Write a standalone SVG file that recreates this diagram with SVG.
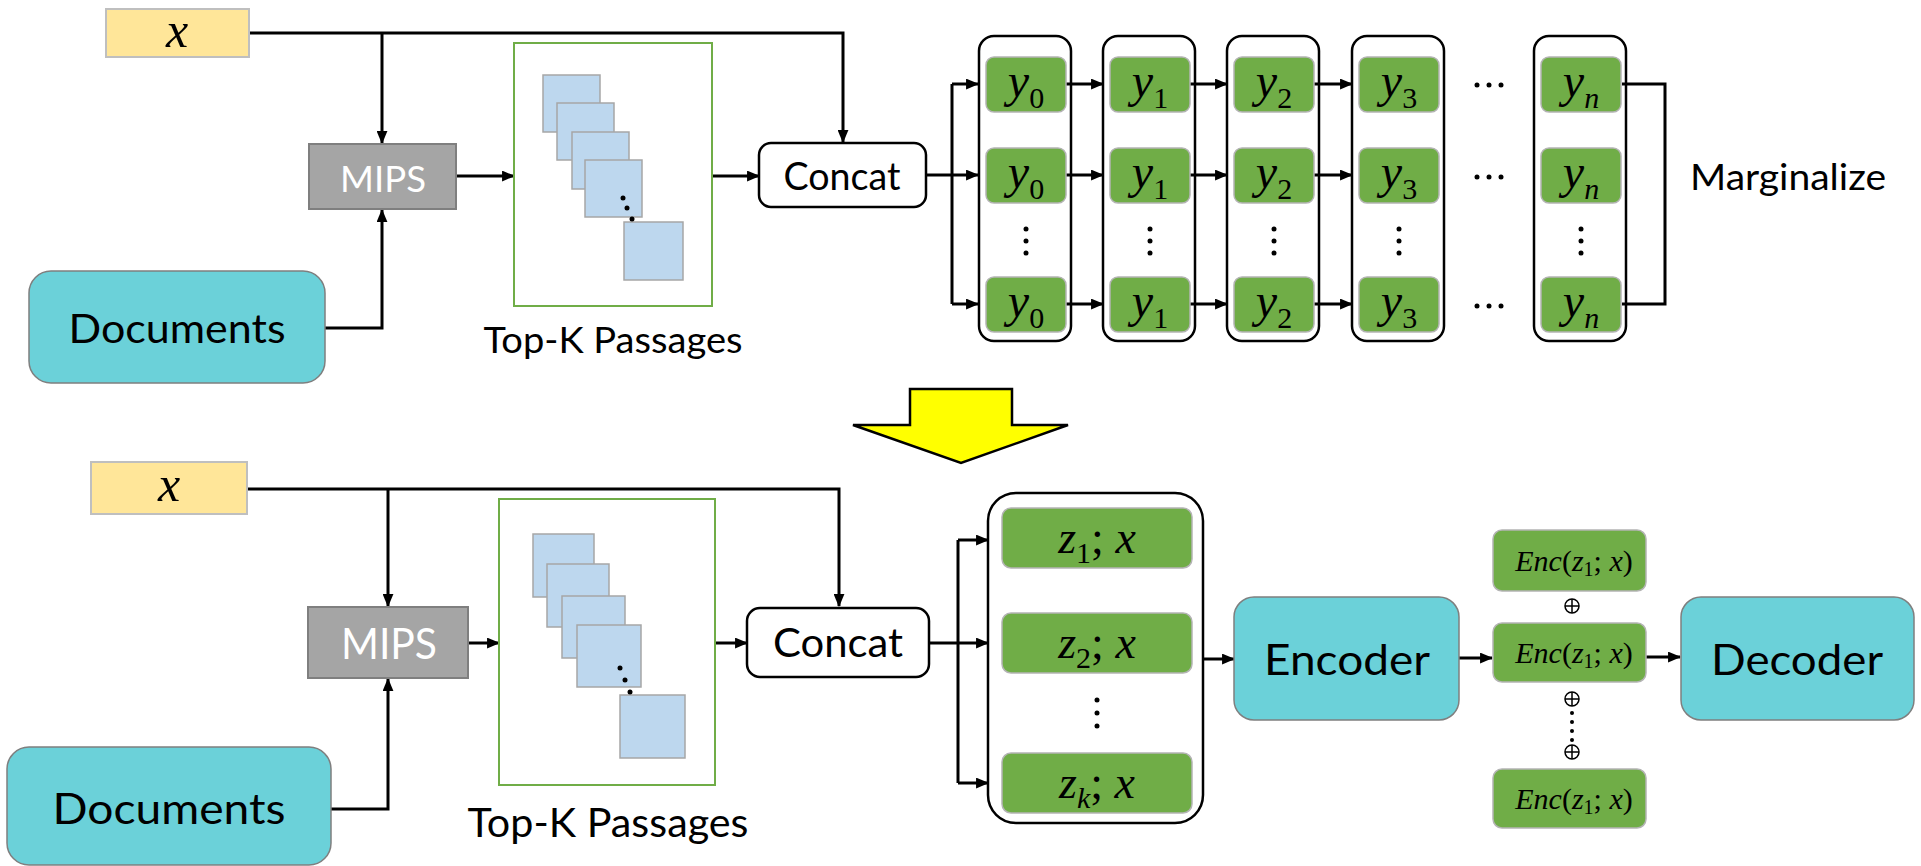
<svg xmlns="http://www.w3.org/2000/svg" width="1921" height="866" viewBox="0 0 1921 866">
<style>
.lbl{font-family:Lato,"Liberation Sans",sans-serif;fill:#000;text-anchor:middle}
.m{font-family:"Liberation Serif","DejaVu Serif",serif;font-style:italic;fill:#000;text-anchor:middle}
.up{font-style:normal}
.xbox{fill:#ffe699;stroke:#bfbfbf;stroke-width:2}
.mips{fill:#a5a5a5;stroke:#7f7f7f;stroke-width:2}
.teal{fill:#6bd1d9;stroke:#7f7f7f;stroke-width:1.5}
.gbox{fill:#70ad47;stroke:#b4b4b4;stroke-width:1.5}
.blue{fill:#bdd7ee;stroke:#a6a6a6;stroke-width:1.5}
.pass{fill:#fff;stroke:#70ad47;stroke-width:2}
.outl{fill:none;stroke:#000;stroke-width:2.5}
.ln{fill:none;stroke:#000;stroke-width:3}
.ar{fill:none;stroke:#000;stroke-width:3;marker-end:url(#arr)}
.dot{fill:#000}
</style>
<defs>
<marker id="arr" viewBox="0 0 12 10" refX="11" refY="5" markerWidth="13" markerHeight="11" markerUnits="userSpaceOnUse" orient="auto">
<path d="M0,0 L12,5 L0,10 z" fill="#000"/>
</marker>
</defs>
<rect width="1921" height="866" fill="#fff"/>

<!-- ===== TOP SECTION ===== -->
<g id="connectors-top">
<path class="ar" d="M249 33 H843 V142"/>
<path class="ar" d="M382 33 V143"/>
<path class="ar" d="M325 328 H382 V210"/>
<path class="ar" d="M456 176 H514"/>
<path class="ar" d="M713 176 H759"/>
<path class="ln" d="M926 175 H952"/>
<path class="ln" d="M952 84 V304"/>
<path class="ar" d="M952 84 H978"/>
<path class="ar" d="M952 175 H978"/>
<path class="ar" d="M952 304 H978"/>
<path class="ar" d="M1066 84 H1103"/><path class="ar" d="M1066 175 H1103"/><path class="ar" d="M1066 304 H1103"/>
<path class="ar" d="M1190 84 H1227"/><path class="ar" d="M1190 175 H1227"/><path class="ar" d="M1190 304 H1227"/>
<path class="ar" d="M1314 84 H1352"/><path class="ar" d="M1314 175 H1352"/><path class="ar" d="M1314 304 H1352"/>
<path class="ln" d="M1622 84 H1665 V304 H1622"/>
</g>

<g id="x-top">
<rect class="xbox" x="106" y="9" width="143" height="48"/>
<text class="m" x="177" y="47" font-size="50">x</text>
</g>
<g id="mips-top">
<rect class="mips" x="309" y="144" width="147" height="65"/>
<text class="lbl" x="383" y="192" font-size="36" style="fill:#fff" textLength="86" lengthAdjust="spacingAndGlyphs">MIPS</text>
</g>
<g id="documents-top">
<rect class="teal" x="29" y="271" width="296" height="112" rx="22"/>
<text class="lbl" x="177" y="343" font-size="40" textLength="217" lengthAdjust="spacingAndGlyphs">Documents</text>
</g>
<g id="passages-top">
<rect class="pass" x="514" y="43" width="198" height="263"/>
<rect class="blue" x="543" y="75" width="57" height="57"/>
<rect class="blue" x="557" y="103" width="57" height="57"/>
<rect class="blue" x="572" y="132" width="57" height="57"/>
<rect class="blue" x="585" y="160" width="57" height="57"/>
<rect class="blue" x="624" y="222" width="59" height="58"/>
<circle class="dot" cx="623" cy="198" r="2.5"/>
<circle class="dot" cx="627" cy="208" r="2.5"/>
<circle class="dot" cx="632" cy="219" r="2.5"/>
<text class="lbl" x="613" y="353" font-size="36" textLength="259" lengthAdjust="spacingAndGlyphs">Top-K Passages</text>
</g>
<g id="concat-top">
<rect x="759" y="143" width="167" height="64" rx="12" fill="#fff" stroke="#000" stroke-width="2.5"/>
<text class="lbl" x="842" y="190" font-size="38" textLength="117" lengthAdjust="spacingAndGlyphs">Concat</text>
</g>

<g id="col0">
<rect class="outl" x="979" y="36" width="92" height="305" rx="15"/>
<rect class="gbox" x="986" y="57" width="80" height="55" rx="8"/>
<rect class="gbox" x="986" y="148" width="80" height="55" rx="8"/>
<rect class="gbox" x="986" y="277" width="80" height="55" rx="8"/>
<text class="m" x="1026" y="97" font-size="48">y<tspan class="up" font-size="30" dy="11">0</tspan></text>
<text class="m" x="1026" y="188" font-size="48">y<tspan class="up" font-size="30" dy="11">0</tspan></text>
<text class="m" x="1026" y="317" font-size="48">y<tspan class="up" font-size="30" dy="11">0</tspan></text>
<circle class="dot" cx="1026" cy="229" r="2.5"/><circle class="dot" cx="1026" cy="241" r="2.5"/><circle class="dot" cx="1026" cy="253" r="2.5"/>
</g>
<g id="col1">
<rect class="outl" x="1103" y="36" width="92" height="305" rx="15"/>
<rect class="gbox" x="1110" y="57" width="80" height="55" rx="8"/>
<rect class="gbox" x="1110" y="148" width="80" height="55" rx="8"/>
<rect class="gbox" x="1110" y="277" width="80" height="55" rx="8"/>
<text class="m" x="1150" y="97" font-size="48">y<tspan class="up" font-size="30" dy="11">1</tspan></text>
<text class="m" x="1150" y="188" font-size="48">y<tspan class="up" font-size="30" dy="11">1</tspan></text>
<text class="m" x="1150" y="317" font-size="48">y<tspan class="up" font-size="30" dy="11">1</tspan></text>
<circle class="dot" cx="1150" cy="229" r="2.5"/><circle class="dot" cx="1150" cy="241" r="2.5"/><circle class="dot" cx="1150" cy="253" r="2.5"/>
</g>
<g id="col2">
<rect class="outl" x="1227" y="36" width="92" height="305" rx="15"/>
<rect class="gbox" x="1234" y="57" width="80" height="55" rx="8"/>
<rect class="gbox" x="1234" y="148" width="80" height="55" rx="8"/>
<rect class="gbox" x="1234" y="277" width="80" height="55" rx="8"/>
<text class="m" x="1274" y="97" font-size="48">y<tspan class="up" font-size="30" dy="11">2</tspan></text>
<text class="m" x="1274" y="188" font-size="48">y<tspan class="up" font-size="30" dy="11">2</tspan></text>
<text class="m" x="1274" y="317" font-size="48">y<tspan class="up" font-size="30" dy="11">2</tspan></text>
<circle class="dot" cx="1274" cy="229" r="2.5"/><circle class="dot" cx="1274" cy="241" r="2.5"/><circle class="dot" cx="1274" cy="253" r="2.5"/>
</g>
<g id="col3">
<rect class="outl" x="1352" y="36" width="92" height="305" rx="15"/>
<rect class="gbox" x="1359" y="57" width="80" height="55" rx="8"/>
<rect class="gbox" x="1359" y="148" width="80" height="55" rx="8"/>
<rect class="gbox" x="1359" y="277" width="80" height="55" rx="8"/>
<text class="m" x="1399" y="97" font-size="48">y<tspan class="up" font-size="30" dy="11">3</tspan></text>
<text class="m" x="1399" y="188" font-size="48">y<tspan class="up" font-size="30" dy="11">3</tspan></text>
<text class="m" x="1399" y="317" font-size="48">y<tspan class="up" font-size="30" dy="11">3</tspan></text>
<circle class="dot" cx="1399" cy="229" r="2.5"/><circle class="dot" cx="1399" cy="241" r="2.5"/><circle class="dot" cx="1399" cy="253" r="2.5"/>
</g>
<g id="ellipses">
<circle class="dot" cx="1477" cy="85" r="2.5"/><circle class="dot" cx="1489" cy="85" r="2.5"/><circle class="dot" cx="1501" cy="85" r="2.5"/>
<circle class="dot" cx="1477" cy="177" r="2.5"/><circle class="dot" cx="1489" cy="177" r="2.5"/><circle class="dot" cx="1501" cy="177" r="2.5"/>
<circle class="dot" cx="1477" cy="306" r="2.5"/><circle class="dot" cx="1489" cy="306" r="2.5"/><circle class="dot" cx="1501" cy="306" r="2.5"/>
</g>
<g id="coln">
<rect class="outl" x="1534" y="36" width="92" height="305" rx="15"/>
<rect class="gbox" x="1541" y="57" width="80" height="55" rx="8"/>
<rect class="gbox" x="1541" y="148" width="80" height="55" rx="8"/>
<rect class="gbox" x="1541" y="277" width="80" height="55" rx="8"/>
<text class="m" x="1581" y="97" font-size="48">y<tspan font-size="30" dy="11">n</tspan></text>
<text class="m" x="1581" y="188" font-size="48">y<tspan font-size="30" dy="11">n</tspan></text>
<text class="m" x="1581" y="317" font-size="48">y<tspan font-size="30" dy="11">n</tspan></text>
<circle class="dot" cx="1581" cy="229" r="2.5"/><circle class="dot" cx="1581" cy="241" r="2.5"/><circle class="dot" cx="1581" cy="253" r="2.5"/>
</g>
<g id="marginalize">
<text class="lbl" x="1788" y="190" font-size="36" textLength="196" lengthAdjust="spacingAndGlyphs">Marginalize</text>
</g>

<!-- ===== TRANSITION ARROW ===== -->
<g id="down-arrow">
<path d="M910 389 H1012 V425 H1068 L961 463 L853 425 H910 Z" fill="#ffff00" stroke="#000" stroke-width="2.5" stroke-linejoin="miter"/>
</g>

<!-- ===== BOTTOM SECTION ===== -->
<g id="connectors-bottom">
<path class="ar" d="M247 489 H839 V606"/>
<path class="ar" d="M388 489 V606"/>
<path class="ar" d="M331 809 H388 V679"/>
<path class="ar" d="M468 643 H499"/>
<path class="ar" d="M715 643 H747"/>
<path class="ln" d="M929 643 H958"/>
<path class="ln" d="M958 540 V783"/>
<path class="ar" d="M958 540 H988"/>
<path class="ar" d="M958 643 H988"/>
<path class="ar" d="M958 783 H988"/>
<path class="ar" d="M1203 659 H1234"/>
<path class="ar" d="M1459 658 H1492"/>
<path class="ar" d="M1646 657 H1680"/>
</g>

<g id="x-bottom">
<rect class="xbox" x="91" y="462" width="156" height="52"/>
<text class="m" x="169" y="501" font-size="50">x</text>
</g>
<g id="mips-bottom">
<rect class="mips" x="308" y="607" width="160" height="71"/>
<text class="lbl" x="389" y="659" font-size="42" style="fill:#fff" textLength="96" lengthAdjust="spacingAndGlyphs">MIPS</text>
</g>
<g id="documents-bottom">
<rect class="teal" x="7" y="747" width="324" height="118" rx="22"/>
<text class="lbl" x="169" y="824" font-size="42" textLength="233" lengthAdjust="spacingAndGlyphs">Documents</text>
</g>
<g id="passages-bottom">
<rect class="pass" x="499" y="499" width="216" height="286"/>
<rect class="blue" x="533" y="534" width="61" height="63"/>
<rect class="blue" x="547" y="564" width="62" height="63"/>
<rect class="blue" x="562" y="596" width="63" height="62"/>
<rect class="blue" x="577" y="625" width="64" height="62"/>
<rect class="blue" x="620" y="695" width="65" height="63"/>
<circle class="dot" cx="620" cy="668" r="2.5"/>
<circle class="dot" cx="625" cy="680" r="2.5"/>
<circle class="dot" cx="630" cy="692" r="2.5"/>
<text class="lbl" x="608" y="837" font-size="40" textLength="281" lengthAdjust="spacingAndGlyphs">Top-K Passages</text>
</g>
<g id="concat-bottom">
<rect x="747" y="608" width="182" height="69" rx="13" fill="#fff" stroke="#000" stroke-width="2.5"/>
<text class="lbl" x="838" y="657" font-size="40" textLength="130" lengthAdjust="spacingAndGlyphs">Concat</text>
</g>
<g id="z-stack">
<rect class="outl" x="988" y="493" width="215" height="330" rx="28"/>
<rect class="gbox" x="1002" y="508" width="190" height="60" rx="9"/>
<rect class="gbox" x="1002" y="613" width="190" height="60" rx="9"/>
<rect class="gbox" x="1002" y="753" width="190" height="60" rx="9"/>
<text class="m" x="1097" y="553" font-size="46">z<tspan class="up" font-size="30" dy="10">1</tspan><tspan class="up" dy="-10">;</tspan> x</text>
<text class="m" x="1097" y="658" font-size="46">z<tspan class="up" font-size="30" dy="10">2</tspan><tspan class="up" dy="-10">;</tspan> x</text>
<text class="m" x="1097" y="798" font-size="46">z<tspan font-size="30" dy="10">k</tspan><tspan class="up" dy="-10">;</tspan> x</text>
<circle class="dot" cx="1097" cy="700" r="2.5"/><circle class="dot" cx="1097" cy="713" r="2.5"/><circle class="dot" cx="1097" cy="726" r="2.5"/>
</g>
<g id="encoder">
<rect class="teal" x="1234" y="597" width="225" height="123" rx="20"/>
<text class="lbl" x="1347" y="675" font-size="43" textLength="166" lengthAdjust="spacingAndGlyphs">Encoder</text>
</g>
<g id="enc-stack">
<rect class="gbox" x="1493" y="530" width="153" height="61" rx="9"/>
<rect class="gbox" x="1493" y="623" width="153" height="59" rx="9"/>
<rect class="gbox" x="1493" y="769" width="153" height="59" rx="9"/>
<text class="m" x="1574" y="571" font-size="30">Enc<tspan class="up">(</tspan>z<tspan class="up" font-size="20" dy="5">1</tspan><tspan class="up" dy="-5">;</tspan> x<tspan class="up">)</tspan></text>
<text class="m" x="1574" y="663" font-size="30">Enc<tspan class="up">(</tspan>z<tspan class="up" font-size="20" dy="5">1</tspan><tspan class="up" dy="-5">;</tspan> x<tspan class="up">)</tspan></text>
<text class="m" x="1574" y="809" font-size="30">Enc<tspan class="up">(</tspan>z<tspan class="up" font-size="20" dy="5">1</tspan><tspan class="up" dy="-5">;</tspan> x<tspan class="up">)</tspan></text>
<g fill="none" stroke="#000" stroke-width="1.5">
<circle cx="1572" cy="606" r="7"/><path d="M1565 606 H1579 M1572 599 V613"/>
<circle cx="1572" cy="699" r="7"/><path d="M1565 699 H1579 M1572 692 V706"/>
<circle cx="1572" cy="752" r="7"/><path d="M1565 752 H1579 M1572 745 V759"/>
</g>
<circle class="dot" cx="1572" cy="713" r="2"/><circle class="dot" cx="1572" cy="722" r="2"/><circle class="dot" cx="1572" cy="731" r="2"/><circle class="dot" cx="1572" cy="740" r="2"/>
</g>
<g id="decoder">
<rect class="teal" x="1681" y="597" width="233" height="123" rx="20"/>
<text class="lbl" x="1797" y="675" font-size="43" textLength="172" lengthAdjust="spacingAndGlyphs">Decoder</text>
</g>
</svg>
